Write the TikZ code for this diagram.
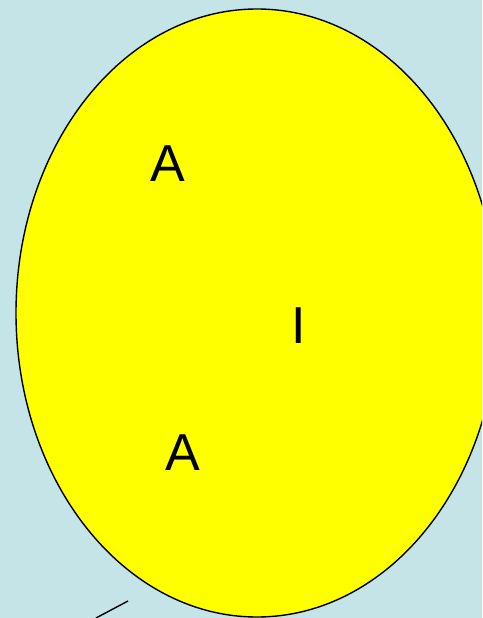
\documentclass[tikz,border=0pt]{standalone}
\usepackage{fontspec}
\setmainfont{Liberation Sans}
\definecolor{bgblue}{HTML}{C4E4E8}
\definecolor{fillyellow}{HTML}{FFFF00}
\begin{document}
\begin{tikzpicture}[x=1pt,y=-1pt,
  lbl/.style={inner sep=0pt, anchor=base, font=\fontsize{52}{60}\selectfont},
  edge/.style={line width=1.4pt}]
\fill[bgblue] (0,0) rectangle (482,618);
\useasboundingbox (0,0) rectangle (482,618);
\begin{scope}
\clip (0,0) rectangle (482,618);
\draw[edge, fill=fillyellow] (257,313) ellipse [x radius=241, y radius=304];
\end{scope}
\node[lbl] (a1) at (168,181) {A};
\node[lbl] (i) at (299,343) {I};
\node[lbl] (a2) at (183,470) {A};
\coordinate (l1) at (96,618);
\coordinate (l2) at (128,601);
\draw[edge] (l1) -- (l2);
\end{tikzpicture}
\end{document}
